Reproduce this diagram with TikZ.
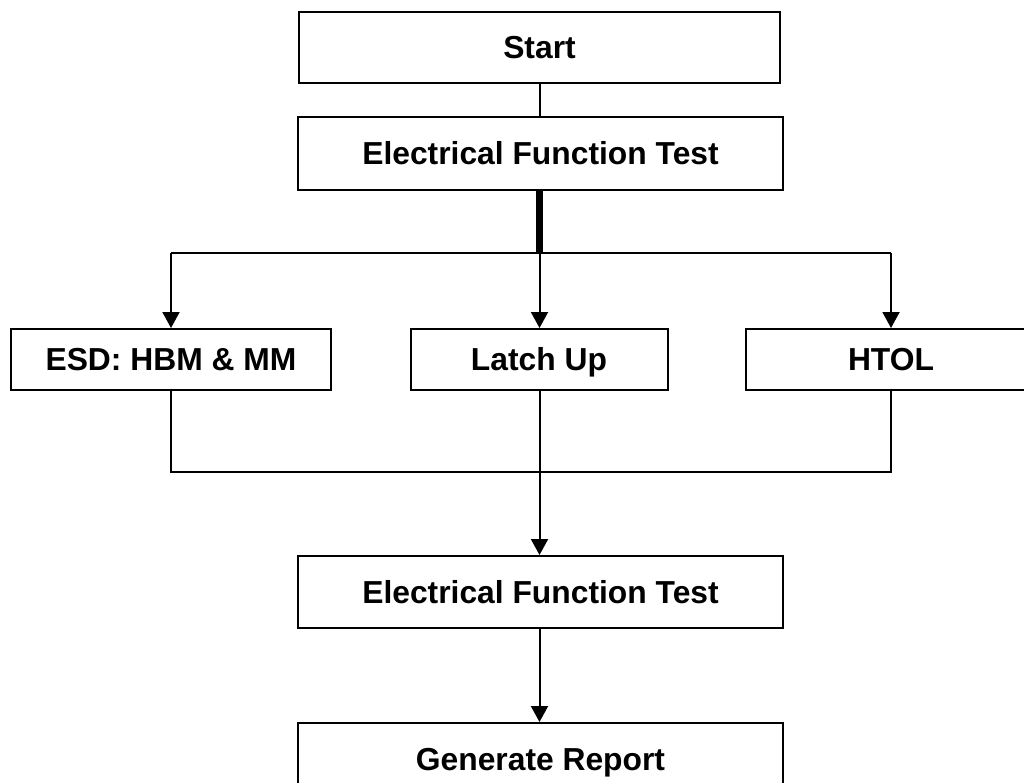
\documentclass[tikz,border=0pt]{standalone}
\usepackage{fontspec}
\setmainfont{Liberation Sans}
\usetikzlibrary{arrows.meta}
\tikzset{
  box/.style={draw=black, line width=2pt, fill=white, inner sep=0pt, align=center,
    text height=22.8pt, text depth=0pt,
    font=\fontsize{31.8}{38}\selectfont\bfseries},
  conn/.style={draw=black, line width=2pt},
  arr/.style={conn, -{Triangle[length=16pt,width=17pt]}},
  thick conn/.style={draw=black, line width=6.5pt}
}
\begin{document}
\begin{tikzpicture}[x=1pt,y=-1pt]
\useasboundingbox (0,0) rectangle (1024,782);
\clip (0,0) rectangle (1024,782);
\fill[white] (0,0) rectangle (1024,782);
\node[box, minimum width=481pt, minimum height=71pt] (start) at (539.5,47.5) {Start};
\node[box, minimum width=485pt, minimum height=73pt] (eft1) at (540.5,153.5) {Electrical Function Test};
\node[box, minimum width=320pt, minimum height=61pt] (esd) at (171,359.5) {ESD: HBM \& MM};
\node[box, minimum width=257pt, minimum height=61pt] (latch) at (539,359.5) {Latch Up};
\node[box, minimum width=290pt, minimum height=61pt] (htol) at (891,359.5) {HTOL};
\node[box, minimum width=485pt, minimum height=72pt] (eft2) at (540.5,592) {Electrical Function Test};
\node[box, minimum width=485pt, minimum height=72pt] (gr) at (540.5,759) {Generate Report};
\coordinate (j1) at (539.5,253);
\coordinate (j2) at (539.5,472);
\draw[conn] (start.south -| j1) -- (eft1.north -| j1);
\draw[thick conn] (eft1.south -| j1) -- (j1);
\draw[conn] (esd.north |- j1) -- (htol.north |- j1);
\draw[arr] (esd.north |- j1) -- (esd.north);
\draw[arr] (j1) -- (latch.north -| j1);
\draw[arr] (htol.north |- j1) -- (htol.north);
\draw[conn] (esd.south) |- (j2) -| (htol.south);
\draw[conn] (latch.south -| j2) -- (j2);
\draw[arr] (j2) -- (eft2.north -| j2);
\draw[arr] (eft2.south -| j2) -- (gr.north -| j2);
\end{tikzpicture}
\end{document}
